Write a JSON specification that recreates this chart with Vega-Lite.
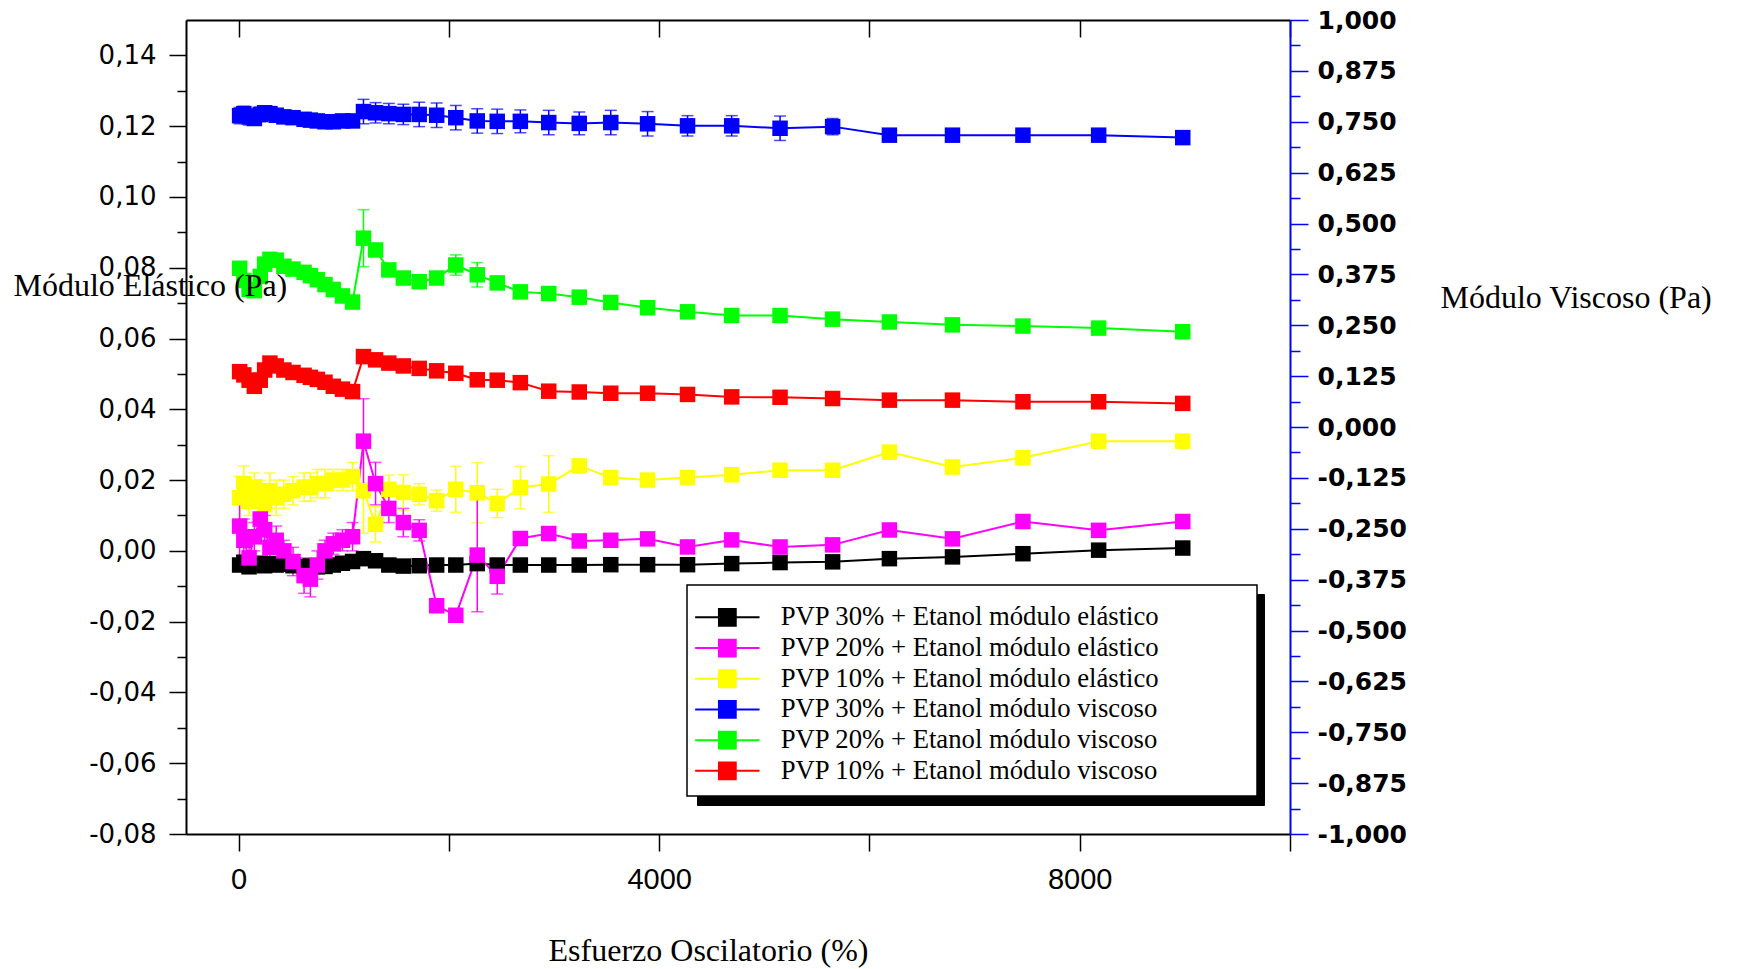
{
  "$schema": "https://vega.github.io/schema/vega-lite/v6.json",
  "width": 1104,
  "height": 814,
  "autosize": "none",
  "padding": {"left": 186, "top": 20, "right": 447, "bottom": 135},
  "background": "white",
  "config": {"view": {"stroke": null}, "axis": {"grid": false}},
  "data": {"values": [
    {"s":"PVP 30% + Etanol módulo elástico","x":10,"v":-0.004,"e":0.0012},
    {"s":"PVP 30% + Etanol módulo elástico","x":50,"v":-0.0032,"e":0.0012},
    {"s":"PVP 30% + Etanol módulo elástico","x":100,"v":-0.0045,"e":0.0012},
    {"s":"PVP 30% + Etanol módulo elástico","x":150,"v":-0.0038,"e":0.0012},
    {"s":"PVP 30% + Etanol módulo elástico","x":206,"v":-0.0035,"e":0.0012},
    {"s":"PVP 30% + Etanol módulo elástico","x":248,"v":-0.0042,"e":0.0012},
    {"s":"PVP 30% + Etanol módulo elástico","x":298,"v":-0.0036,"e":0.0012},
    {"s":"PVP 30% + Etanol módulo elástico","x":358,"v":-0.004,"e":0.0012},
    {"s":"PVP 30% + Etanol módulo elástico","x":431,"v":-0.0038,"e":0.0012},
    {"s":"PVP 30% + Etanol módulo elástico","x":518,"v":-0.0042,"e":0.0012},
    {"s":"PVP 30% + Etanol módulo elástico","x":623,"v":-0.0044,"e":0.0012},
    {"s":"PVP 30% + Etanol módulo elástico","x":683,"v":-0.0043,"e":0.0012},
    {"s":"PVP 30% + Etanol módulo elástico","x":749,"v":-0.0045},
    {"s":"PVP 30% + Etanol módulo elástico","x":822,"v":-0.0044},
    {"s":"PVP 30% + Etanol módulo elástico","x":901,"v":-0.004},
    {"s":"PVP 30% + Etanol módulo elástico","x":988,"v":-0.0035},
    {"s":"PVP 30% + Etanol módulo elástico","x":1084,"v":-0.003},
    {"s":"PVP 30% + Etanol módulo elástico","x":1188,"v":-0.0022},
    {"s":"PVP 30% + Etanol módulo elástico","x":1303,"v":-0.0028},
    {"s":"PVP 30% + Etanol módulo elástico","x":1429,"v":-0.004},
    {"s":"PVP 30% + Etanol módulo elástico","x":1567,"v":-0.0043},
    {"s":"PVP 30% + Etanol módulo elástico","x":1718,"v":-0.0042},
    {"s":"PVP 30% + Etanol módulo elástico","x":1884,"v":-0.004},
    {"s":"PVP 30% + Etanol módulo elástico","x":2066,"v":-0.004},
    {"s":"PVP 30% + Etanol módulo elástico","x":2270,"v":-0.0036},
    {"s":"PVP 30% + Etanol módulo elástico","x":2460,"v":-0.004},
    {"s":"PVP 30% + Etanol módulo elástico","x":2680,"v":-0.004},
    {"s":"PVP 30% + Etanol módulo elástico","x":2950,"v":-0.004},
    {"s":"PVP 30% + Etanol módulo elástico","x":3240,"v":-0.004},
    {"s":"PVP 30% + Etanol módulo elástico","x":3540,"v":-0.0039},
    {"s":"PVP 30% + Etanol módulo elástico","x":3890,"v":-0.0039},
    {"s":"PVP 30% + Etanol módulo elástico","x":4270,"v":-0.0039},
    {"s":"PVP 30% + Etanol módulo elástico","x":4690,"v":-0.0036},
    {"s":"PVP 30% + Etanol módulo elástico","x":5150,"v":-0.0033},
    {"s":"PVP 30% + Etanol módulo elástico","x":5650,"v":-0.0031},
    {"s":"PVP 30% + Etanol módulo elástico","x":6190,"v":-0.0022},
    {"s":"PVP 30% + Etanol módulo elástico","x":6790,"v":-0.0017},
    {"s":"PVP 30% + Etanol módulo elástico","x":7460,"v":-0.0008},
    {"s":"PVP 30% + Etanol módulo elástico","x":8180,"v":0.0002},
    {"s":"PVP 30% + Etanol módulo elástico","x":8980,"v":0.0008},

    {"s":"PVP 10% + Etanol módulo elástico","x":10,"v":0.015,"e":0.006},
    {"s":"PVP 10% + Etanol módulo elástico","x":50,"v":0.019,"e":0.005},
    {"s":"PVP 10% + Etanol módulo elástico","x":100,"v":0.014,"e":0.004},
    {"s":"PVP 10% + Etanol módulo elástico","x":150,"v":0.018,"e":0.004},
    {"s":"PVP 10% + Etanol módulo elástico","x":206,"v":0.016,"e":0.004},
    {"s":"PVP 10% + Etanol módulo elástico","x":248,"v":0.013,"e":0.004},
    {"s":"PVP 10% + Etanol módulo elástico","x":298,"v":0.017,"e":0.005},
    {"s":"PVP 10% + Etanol módulo elástico","x":358,"v":0.015,"e":0.005},
    {"s":"PVP 10% + Etanol módulo elástico","x":431,"v":0.016,"e":0.004},
    {"s":"PVP 10% + Etanol módulo elástico","x":518,"v":0.017,"e":0.004},
    {"s":"PVP 10% + Etanol módulo elástico","x":623,"v":0.018,"e":0.004},
    {"s":"PVP 10% + Etanol módulo elástico","x":683,"v":0.018,"e":0.004},
    {"s":"PVP 10% + Etanol módulo elástico","x":749,"v":0.019,"e":0.004},
    {"s":"PVP 10% + Etanol módulo elástico","x":822,"v":0.019,"e":0.004},
    {"s":"PVP 10% + Etanol módulo elástico","x":901,"v":0.02,"e":0.003},
    {"s":"PVP 10% + Etanol módulo elástico","x":988,"v":0.02,"e":0.003},
    {"s":"PVP 10% + Etanol módulo elástico","x":1084,"v":0.021,"e":0.004},
    {"s":"PVP 10% + Etanol módulo elástico","x":1188,"v":0.017,"e":0.012},
    {"s":"PVP 10% + Etanol módulo elástico","x":1303,"v":0.0075,"e":0.005},
    {"s":"PVP 10% + Etanol módulo elástico","x":1429,"v":0.0174,"e":0.004},
    {"s":"PVP 10% + Etanol módulo elástico","x":1567,"v":0.0165,"e":0.005},
    {"s":"PVP 10% + Etanol módulo elástico","x":1718,"v":0.016,"e":0.003},
    {"s":"PVP 10% + Etanol módulo elástico","x":1884,"v":0.0142,"e":0.003},
    {"s":"PVP 10% + Etanol módulo elástico","x":2066,"v":0.0174,"e":0.0065},
    {"s":"PVP 10% + Etanol módulo elástico","x":2270,"v":0.0164,"e":0.0085},
    {"s":"PVP 10% + Etanol módulo elástico","x":2460,"v":0.0134,"e":0.004},
    {"s":"PVP 10% + Etanol módulo elástico","x":2680,"v":0.0179,"e":0.006},
    {"s":"PVP 10% + Etanol módulo elástico","x":2950,"v":0.0189,"e":0.008},
    {"s":"PVP 10% + Etanol módulo elástico","x":3240,"v":0.024},
    {"s":"PVP 10% + Etanol módulo elástico","x":3540,"v":0.0207},
    {"s":"PVP 10% + Etanol módulo elástico","x":3890,"v":0.02},
    {"s":"PVP 10% + Etanol módulo elástico","x":4270,"v":0.0207},
    {"s":"PVP 10% + Etanol módulo elástico","x":4690,"v":0.0215},
    {"s":"PVP 10% + Etanol módulo elástico","x":5150,"v":0.0228},
    {"s":"PVP 10% + Etanol módulo elástico","x":5650,"v":0.0228},
    {"s":"PVP 10% + Etanol módulo elástico","x":6190,"v":0.0279},
    {"s":"PVP 10% + Etanol módulo elástico","x":6790,"v":0.0237},
    {"s":"PVP 10% + Etanol módulo elástico","x":7460,"v":0.0263},
    {"s":"PVP 10% + Etanol módulo elástico","x":8180,"v":0.031},
    {"s":"PVP 10% + Etanol módulo elástico","x":8980,"v":0.031},

    {"s":"PVP 20% + Etanol módulo elástico","x":10,"v":0.007,"e":0.01},
    {"s":"PVP 20% + Etanol módulo elástico","x":50,"v":0.003,"e":0.006},
    {"s":"PVP 20% + Etanol módulo elástico","x":100,"v":-0.002,"e":0.004},
    {"s":"PVP 20% + Etanol módulo elástico","x":150,"v":0.004,"e":0.004},
    {"s":"PVP 20% + Etanol módulo elástico","x":206,"v":0.009,"e":0.005},
    {"s":"PVP 20% + Etanol módulo elástico","x":248,"v":0.006,"e":0.004},
    {"s":"PVP 20% + Etanol módulo elástico","x":298,"v":0.001,"e":0.003},
    {"s":"PVP 20% + Etanol módulo elástico","x":358,"v":0.003,"e":0.004},
    {"s":"PVP 20% + Etanol módulo elástico","x":431,"v":0.0,"e":0.003},
    {"s":"PVP 20% + Etanol módulo elástico","x":518,"v":-0.003,"e":0.004},
    {"s":"PVP 20% + Etanol módulo elástico","x":623,"v":-0.007,"e":0.005},
    {"s":"PVP 20% + Etanol módulo elástico","x":683,"v":-0.008,"e":0.005},
    {"s":"PVP 20% + Etanol módulo elástico","x":749,"v":-0.004,"e":0.004},
    {"s":"PVP 20% + Etanol módulo elástico","x":822,"v":0.0,"e":0.003},
    {"s":"PVP 20% + Etanol módulo elástico","x":901,"v":0.002,"e":0.003},
    {"s":"PVP 20% + Etanol módulo elástico","x":988,"v":0.003,"e":0.003},
    {"s":"PVP 20% + Etanol módulo elástico","x":1084,"v":0.004,"e":0.004},
    {"s":"PVP 20% + Etanol módulo elástico","x":1188,"v":0.031,"e":0.012},
    {"s":"PVP 20% + Etanol módulo elástico","x":1303,"v":0.019,"e":0.006},
    {"s":"PVP 20% + Etanol módulo elástico","x":1429,"v":0.012,"e":0.004},
    {"s":"PVP 20% + Etanol módulo elástico","x":1567,"v":0.008,"e":0.004},
    {"s":"PVP 20% + Etanol módulo elástico","x":1718,"v":0.0058,"e":0.003},
    {"s":"PVP 20% + Etanol módulo elástico","x":1884,"v":-0.0155},
    {"s":"PVP 20% + Etanol módulo elástico","x":2066,"v":-0.0182},
    {"s":"PVP 20% + Etanol módulo elástico","x":2270,"v":-0.0012,"e":0.016},
    {"s":"PVP 20% + Etanol módulo elástico","x":2460,"v":-0.0072,"e":0.005},
    {"s":"PVP 20% + Etanol módulo elástico","x":2680,"v":0.0035},
    {"s":"PVP 20% + Etanol módulo elástico","x":2950,"v":0.0049},
    {"s":"PVP 20% + Etanol módulo elástico","x":3240,"v":0.0028},
    {"s":"PVP 20% + Etanol módulo elástico","x":3540,"v":0.003},
    {"s":"PVP 20% + Etanol módulo elástico","x":3890,"v":0.0034},
    {"s":"PVP 20% + Etanol módulo elástico","x":4270,"v":0.0011},
    {"s":"PVP 20% + Etanol módulo elástico","x":4690,"v":0.0031},
    {"s":"PVP 20% + Etanol módulo elástico","x":5150,"v":0.0011},
    {"s":"PVP 20% + Etanol módulo elástico","x":5650,"v":0.0017},
    {"s":"PVP 20% + Etanol módulo elástico","x":6190,"v":0.0059},
    {"s":"PVP 20% + Etanol módulo elástico","x":6790,"v":0.0034},
    {"s":"PVP 20% + Etanol módulo elástico","x":7460,"v":0.0083},
    {"s":"PVP 20% + Etanol módulo elástico","x":8180,"v":0.0058},
    {"s":"PVP 20% + Etanol módulo elástico","x":8980,"v":0.0083},

    {"s":"PVP 30% + Etanol módulo viscoso","x":10,"v":0.765,"e":0.02},
    {"s":"PVP 30% + Etanol módulo viscoso","x":50,"v":0.77,"e":0.018},
    {"s":"PVP 30% + Etanol módulo viscoso","x":100,"v":0.762,"e":0.02},
    {"s":"PVP 30% + Etanol módulo viscoso","x":150,"v":0.758,"e":0.016},
    {"s":"PVP 30% + Etanol módulo viscoso","x":206,"v":0.768,"e":0.018},
    {"s":"PVP 30% + Etanol módulo viscoso","x":248,"v":0.772,"e":0.016},
    {"s":"PVP 30% + Etanol módulo viscoso","x":298,"v":0.77,"e":0.015},
    {"s":"PVP 30% + Etanol módulo viscoso","x":358,"v":0.766,"e":0.015},
    {"s":"PVP 30% + Etanol módulo viscoso","x":431,"v":0.762,"e":0.014},
    {"s":"PVP 30% + Etanol módulo viscoso","x":518,"v":0.76,"e":0.014},
    {"s":"PVP 30% + Etanol módulo viscoso","x":623,"v":0.756,"e":0.014},
    {"s":"PVP 30% + Etanol módulo viscoso","x":683,"v":0.754,"e":0.012},
    {"s":"PVP 30% + Etanol módulo viscoso","x":749,"v":0.752,"e":0.012},
    {"s":"PVP 30% + Etanol módulo viscoso","x":822,"v":0.75,"e":0.012},
    {"s":"PVP 30% + Etanol módulo viscoso","x":901,"v":0.75,"e":0.012},
    {"s":"PVP 30% + Etanol módulo viscoso","x":988,"v":0.752,"e":0.012},
    {"s":"PVP 30% + Etanol módulo viscoso","x":1084,"v":0.752,"e":0.012},
    {"s":"PVP 30% + Etanol módulo viscoso","x":1188,"v":0.775,"e":0.03},
    {"s":"PVP 30% + Etanol módulo viscoso","x":1303,"v":0.772,"e":0.025},
    {"s":"PVP 30% + Etanol módulo viscoso","x":1429,"v":0.77,"e":0.025},
    {"s":"PVP 30% + Etanol módulo viscoso","x":1567,"v":0.768,"e":0.025},
    {"s":"PVP 30% + Etanol módulo viscoso","x":1718,"v":0.768,"e":0.03},
    {"s":"PVP 30% + Etanol módulo viscoso","x":1884,"v":0.766,"e":0.03},
    {"s":"PVP 30% + Etanol módulo viscoso","x":2066,"v":0.76,"e":0.03},
    {"s":"PVP 30% + Etanol módulo viscoso","x":2270,"v":0.752,"e":0.03},
    {"s":"PVP 30% + Etanol módulo viscoso","x":2460,"v":0.751,"e":0.03},
    {"s":"PVP 30% + Etanol módulo viscoso","x":2680,"v":0.751,"e":0.028},
    {"s":"PVP 30% + Etanol módulo viscoso","x":2950,"v":0.748,"e":0.03},
    {"s":"PVP 30% + Etanol módulo viscoso","x":3240,"v":0.746,"e":0.028},
    {"s":"PVP 30% + Etanol módulo viscoso","x":3540,"v":0.748,"e":0.03},
    {"s":"PVP 30% + Etanol módulo viscoso","x":3890,"v":0.745,"e":0.03},
    {"s":"PVP 30% + Etanol módulo viscoso","x":4270,"v":0.74,"e":0.025},
    {"s":"PVP 30% + Etanol módulo viscoso","x":4690,"v":0.74,"e":0.025},
    {"s":"PVP 30% + Etanol módulo viscoso","x":5150,"v":0.734,"e":0.03},
    {"s":"PVP 30% + Etanol módulo viscoso","x":5650,"v":0.738,"e":0.02},
    {"s":"PVP 30% + Etanol módulo viscoso","x":6190,"v":0.717},
    {"s":"PVP 30% + Etanol módulo viscoso","x":6790,"v":0.717},
    {"s":"PVP 30% + Etanol módulo viscoso","x":7460,"v":0.717},
    {"s":"PVP 30% + Etanol módulo viscoso","x":8180,"v":0.717},
    {"s":"PVP 30% + Etanol módulo viscoso","x":8980,"v":0.711},

    {"s":"PVP 20% + Etanol módulo viscoso","x":10,"v":0.39},
    {"s":"PVP 20% + Etanol módulo viscoso","x":50,"v":0.36},
    {"s":"PVP 20% + Etanol módulo viscoso","x":100,"v":0.338},
    {"s":"PVP 20% + Etanol módulo viscoso","x":150,"v":0.335},
    {"s":"PVP 20% + Etanol módulo viscoso","x":206,"v":0.37},
    {"s":"PVP 20% + Etanol módulo viscoso","x":248,"v":0.4},
    {"s":"PVP 20% + Etanol módulo viscoso","x":298,"v":0.412},
    {"s":"PVP 20% + Etanol módulo viscoso","x":358,"v":0.41},
    {"s":"PVP 20% + Etanol módulo viscoso","x":431,"v":0.395},
    {"s":"PVP 20% + Etanol módulo viscoso","x":518,"v":0.388},
    {"s":"PVP 20% + Etanol módulo viscoso","x":623,"v":0.38},
    {"s":"PVP 20% + Etanol módulo viscoso","x":683,"v":0.372},
    {"s":"PVP 20% + Etanol módulo viscoso","x":749,"v":0.362},
    {"s":"PVP 20% + Etanol módulo viscoso","x":822,"v":0.35},
    {"s":"PVP 20% + Etanol módulo viscoso","x":901,"v":0.338},
    {"s":"PVP 20% + Etanol módulo viscoso","x":988,"v":0.322},
    {"s":"PVP 20% + Etanol módulo viscoso","x":1084,"v":0.307},
    {"s":"PVP 20% + Etanol módulo viscoso","x":1188,"v":0.464,"e":0.07},
    {"s":"PVP 20% + Etanol módulo viscoso","x":1303,"v":0.435},
    {"s":"PVP 20% + Etanol módulo viscoso","x":1429,"v":0.386},
    {"s":"PVP 20% + Etanol módulo viscoso","x":1567,"v":0.366},
    {"s":"PVP 20% + Etanol módulo viscoso","x":1718,"v":0.357},
    {"s":"PVP 20% + Etanol módulo viscoso","x":1884,"v":0.366},
    {"s":"PVP 20% + Etanol módulo viscoso","x":2066,"v":0.398,"e":0.025},
    {"s":"PVP 20% + Etanol módulo viscoso","x":2270,"v":0.374,"e":0.03},
    {"s":"PVP 20% + Etanol módulo viscoso","x":2460,"v":0.354},
    {"s":"PVP 20% + Etanol módulo viscoso","x":2680,"v":0.332},
    {"s":"PVP 20% + Etanol módulo viscoso","x":2950,"v":0.328},
    {"s":"PVP 20% + Etanol módulo viscoso","x":3240,"v":0.319},
    {"s":"PVP 20% + Etanol módulo viscoso","x":3540,"v":0.306},
    {"s":"PVP 20% + Etanol módulo viscoso","x":3890,"v":0.293},
    {"s":"PVP 20% + Etanol módulo viscoso","x":4270,"v":0.283},
    {"s":"PVP 20% + Etanol módulo viscoso","x":4690,"v":0.274},
    {"s":"PVP 20% + Etanol módulo viscoso","x":5150,"v":0.274},
    {"s":"PVP 20% + Etanol módulo viscoso","x":5650,"v":0.265},
    {"s":"PVP 20% + Etanol módulo viscoso","x":6190,"v":0.258},
    {"s":"PVP 20% + Etanol módulo viscoso","x":6790,"v":0.251},
    {"s":"PVP 20% + Etanol módulo viscoso","x":7460,"v":0.248},
    {"s":"PVP 20% + Etanol módulo viscoso","x":8180,"v":0.243},
    {"s":"PVP 20% + Etanol módulo viscoso","x":8980,"v":0.234},

    {"s":"PVP 10% + Etanol módulo viscoso","x":10,"v":0.136},
    {"s":"PVP 10% + Etanol módulo viscoso","x":50,"v":0.128},
    {"s":"PVP 10% + Etanol módulo viscoso","x":100,"v":0.115},
    {"s":"PVP 10% + Etanol módulo viscoso","x":150,"v":0.1},
    {"s":"PVP 10% + Etanol módulo viscoso","x":206,"v":0.115},
    {"s":"PVP 10% + Etanol módulo viscoso","x":248,"v":0.14},
    {"s":"PVP 10% + Etanol módulo viscoso","x":298,"v":0.157},
    {"s":"PVP 10% + Etanol módulo viscoso","x":358,"v":0.15},
    {"s":"PVP 10% + Etanol módulo viscoso","x":431,"v":0.14},
    {"s":"PVP 10% + Etanol módulo viscoso","x":518,"v":0.134},
    {"s":"PVP 10% + Etanol módulo viscoso","x":623,"v":0.127},
    {"s":"PVP 10% + Etanol módulo viscoso","x":683,"v":0.122},
    {"s":"PVP 10% + Etanol módulo viscoso","x":749,"v":0.117},
    {"s":"PVP 10% + Etanol módulo viscoso","x":822,"v":0.11},
    {"s":"PVP 10% + Etanol módulo viscoso","x":901,"v":0.1},
    {"s":"PVP 10% + Etanol módulo viscoso","x":988,"v":0.093},
    {"s":"PVP 10% + Etanol módulo viscoso","x":1084,"v":0.087},
    {"s":"PVP 10% + Etanol módulo viscoso","x":1188,"v":0.173},
    {"s":"PVP 10% + Etanol módulo viscoso","x":1303,"v":0.165},
    {"s":"PVP 10% + Etanol módulo viscoso","x":1429,"v":0.157},
    {"s":"PVP 10% + Etanol módulo viscoso","x":1567,"v":0.15},
    {"s":"PVP 10% + Etanol módulo viscoso","x":1718,"v":0.144},
    {"s":"PVP 10% + Etanol módulo viscoso","x":1884,"v":0.138},
    {"s":"PVP 10% + Etanol módulo viscoso","x":2066,"v":0.132},
    {"s":"PVP 10% + Etanol módulo viscoso","x":2270,"v":0.116},
    {"s":"PVP 10% + Etanol módulo viscoso","x":2460,"v":0.115},
    {"s":"PVP 10% + Etanol módulo viscoso","x":2680,"v":0.109},
    {"s":"PVP 10% + Etanol módulo viscoso","x":2950,"v":0.088},
    {"s":"PVP 10% + Etanol módulo viscoso","x":3240,"v":0.086},
    {"s":"PVP 10% + Etanol módulo viscoso","x":3540,"v":0.083},
    {"s":"PVP 10% + Etanol módulo viscoso","x":3890,"v":0.083},
    {"s":"PVP 10% + Etanol módulo viscoso","x":4270,"v":0.08},
    {"s":"PVP 10% + Etanol módulo viscoso","x":4690,"v":0.074},
    {"s":"PVP 10% + Etanol módulo viscoso","x":5150,"v":0.073},
    {"s":"PVP 10% + Etanol módulo viscoso","x":5650,"v":0.07},
    {"s":"PVP 10% + Etanol módulo viscoso","x":6190,"v":0.066},
    {"s":"PVP 10% + Etanol módulo viscoso","x":6790,"v":0.066},
    {"s":"PVP 10% + Etanol módulo viscoso","x":7460,"v":0.062},
    {"s":"PVP 10% + Etanol módulo viscoso","x":8180,"v":0.062},
    {"s":"PVP 10% + Etanol módulo viscoso","x":8980,"v":0.058}
  ]},
  "transform": [{"calculate": "datum.s", "as": "s2"}],
  "encoding": {
    "x": {"field": "x", "type": "quantitative", "scale": {"domain": [-500, 10000], "nice": false, "zero": false}, "axis": null},
    "color": {
      "field": "s", "type": "nominal",
      "scale": {
        "domain": ["PVP 30% + Etanol módulo elástico", "PVP 20% + Etanol módulo elástico", "PVP 10% + Etanol módulo elástico", "PVP 30% + Etanol módulo viscoso", "PVP 20% + Etanol módulo viscoso", "PVP 10% + Etanol módulo viscoso"],
        "range": ["#000000", "#ff00ff", "#ffff00", "#0000ff", "#00ff00", "#ff0000"]
      },
      "legend": {
        "orient": "none", "legendX": 501, "legendY": 565, "zindex": 2,
        "title": "\u00a0", "titleFont": "Liberation Serif", "titleFontSize": 6, "titlePadding": 2, "titleColor": "white",
        "fillColor": "white", "strokeColor": "black", "padding": 11,
        "labelFont": "Liberation Serif", "labelFontSize": 26.7, "labelColor": "black", "labelLimit": 0,
        "labelOffset": 40, "symbolOffset": 16, "rowPadding": 2.7,
        "symbolSize": 196, "symbolStrokeWidth": 2, "symbolType": "M-4.6,0H4.6M-1.2,-1.2H1.2V1.2H-1.2ZM73.4,0",
        "encode": {
          "legend": {"update": {"strokeWidth": {"value": 1.5}}},
          "symbols": {"update": {"fill": {"scale": "color", "field": "value"}, "stroke": {"scale": "color", "field": "value"}, "opacity": {"value": 1}, "shape": {"value": "M-4.6,0H4.6M-1.2,-1.2H1.2V1.2H-1.2ZM73.4,0"}, "strokeWidth": {"value": 2}}}
        }
      }
    }
  },
  "layer": [
    {
      "transform": [{"filter": "indexof(datum.s, 'elástico') >= 0"}],
      "layer": [
        {
          "transform": [{"filter": "datum.e > 0"}],
          "mark": {"type": "errorbar", "ticks": {"size": 12}, "thickness": 1.5},
          "encoding": {
            "y": {"field": "v", "type": "quantitative", "scale": {"domain": [-0.08, 0.15], "nice": false, "zero": false}, "axis": null},
            "yError": {"field": "e"}
          }
        },
        {
          "mark": {"type": "line", "strokeWidth": 2},
          "encoding": {
            "x": {"field": "x", "type": "quantitative", "scale": {"domain": [-500, 10000], "nice": false, "zero": false},
              "axis": {"orient": "bottom", "values": [0, 2000, 4000, 6000, 8000, 10000], "tickSize": 17, "tickWidth": 1.5, "tickColor": "black", "domainColor": "black", "domainWidth": 2,
                "labelExpr": "datum.value % 4000 === 0 ? format(datum.value, 'd') : ''", "labelFont": "Liberation Sans", "labelFontSize": 29, "labelColor": "black", "labelPadding": 14, "labelFlush": false, "labelOverlap": false,
                "title": "Esfuerzo Oscilatorio (%)", "titleFont": "Liberation Serif", "titleFontSize": 32, "titleFontWeight": "normal", "titleColor": "black", "titleX": 522, "titleY": 116, "titleAlign": "center", "titleBaseline": "middle"}},
            "y": {"field": "v", "type": "quantitative", "scale": {"domain": [-0.08, 0.15], "nice": false, "zero": false},
              "axis": {"orient": "left", "values": [-0.08, -0.06, -0.04, -0.02, 0, 0.02, 0.04, 0.06, 0.08, 0.1, 0.12, 0.14], "tickSize": 17, "tickWidth": 1.5, "tickColor": "black", "domainColor": "black", "domainWidth": 2,
                "labelExpr": "replace(replace(format(datum.value, '.2f'), '.', ','), '\u2212', '-')", "labelFont": "DejaVu Sans", "labelFontSize": 26, "labelColor": "black", "labelPadding": 13, "labelOverlap": false, "labelFlush": false,
                "title": "Módulo Elástico (Pa)", "titleFont": "Liberation Serif", "titleFontSize": 32, "titleFontWeight": "normal", "titleColor": "black", "titleAngle": 0, "titleAlign": "left", "titleBaseline": "middle", "titleX": -173, "titleY": 265, "zindex": 1}}
          }
        },
        {
          "mark": {"type": "point", "shape": "square", "filled": true, "size": 240, "opacity": 1, "strokeWidth": 0},
          "encoding": {
            "x": {"field": "x", "type": "quantitative", "scale": {"domain": [-500, 10000], "nice": false, "zero": false},
              "axis": {"orient": "top", "values": [0, 2000, 4000, 6000, 8000, 10000], "tickSize": -17, "tickWidth": 1.5, "tickColor": "black", "domainColor": "black", "domainWidth": 2, "labels": false, "title": null}},
            "y": {"field": "v", "type": "quantitative", "scale": {"domain": [-0.08, 0.15], "nice": false, "zero": false},
              "axis": {"orient": "left", "values": [-0.07, -0.05, -0.03, -0.01, 0.01, 0.03, 0.05, 0.07, 0.09, 0.11, 0.13], "tickSize": 9, "tickWidth": 1.5, "tickColor": "black", "domain": false, "labels": false, "title": null}},
            "shape": {"field": "s2", "type": "nominal", "scale": {"range": ["square", "square", "square", "square", "square", "square"]},
              "legend": {
                "orient": "none", "legendX": 511, "legendY": 574, "zindex": 1,
                "title": "MMMMMMMMMMMMMMMMMMMMMMMMMMMMMMMMMMMMMMMMMMMMMMMMMMMMMMMMMMMMMMMMMMMMMMMMMMMMMMMMMMMMMMMMMMMMMMMMMMMMMM",
                "titleFont": "Liberation Serif", "titleFontSize": 6, "titleFontWeight": "normal", "titlePadding": 2, "titleColor": "black", "titleLimit": 2000,
                "fillColor": "black", "strokeColor": "black", "padding": 11,
                "labelFont": "Liberation Serif", "labelFontSize": 26.7, "labelColor": "black", "labelLimit": 0,
                "labelOffset": 40, "symbolOffset": 16, "rowPadding": 2.7,
                "symbolSize": 196, "symbolStrokeWidth": 2,
                "encode": {
                  "legend": {"update": {"strokeWidth": {"value": 1.5}}},
                  "symbols": {"update": {"fill": {"value": "black"}, "stroke": {"value": "black"}, "strokeWidth": {"value": 2}}}
                }
              }}
          }
        }
      ],
      "resolve": {"axis": {"x": "independent", "y": "independent"}}
    },
    {
      "transform": [{"filter": "indexof(datum.s, 'viscoso') >= 0"}],
      "layer": [
        {
          "transform": [{"filter": "datum.e > 0"}],
          "mark": {"type": "errorbar", "ticks": {"size": 12}, "thickness": 1.5},
          "encoding": {
            "y": {"field": "v", "type": "quantitative", "scale": {"domain": [-1, 1], "nice": false, "zero": false}, "axis": null},
            "yError": {"field": "e"}
          }
        },
        {
          "mark": {"type": "line", "strokeWidth": 2},
          "encoding": {
            "y": {"field": "v", "type": "quantitative", "scale": {"domain": [-1, 1], "nice": false, "zero": false},
              "axis": {"orient": "right", "values": [-1, -0.875, -0.75, -0.625, -0.5, -0.375, -0.25, -0.125, 0, 0.125, 0.25, 0.375, 0.5, 0.625, 0.75, 0.875, 1], "tickSize": 18, "tickWidth": 1.5, "tickColor": "#0000ff", "domainColor": "#0000ff", "domainWidth": 2,
                "labelExpr": "replace(replace(format(datum.value, '.3f'), '.', ','), '\u2212', '-')", "labelFont": "DejaVu Sans", "labelFontWeight": "bold", "labelFontSize": 25, "labelColor": "black", "labelPadding": 9, "labelOverlap": false, "labelFlush": false,
                "title": "Módulo Viscoso (Pa)", "titleFont": "Liberation Serif", "titleFontSize": 32, "titleFontWeight": "normal", "titleColor": "black", "titleAngle": 0, "titleAlign": "left", "titleBaseline": "middle", "titleX": 150, "titleY": 277}}
          }
        },
        {
          "mark": {"type": "point", "shape": "square", "filled": true, "size": 240, "opacity": 1, "strokeWidth": 0},
          "encoding": {
            "y": {"field": "v", "type": "quantitative", "scale": {"domain": [-1, 1], "nice": false, "zero": false},
              "axis": {"orient": "right", "values": [-0.9375, -0.8125, -0.6875, -0.5625, -0.4375, -0.3125, -0.1875, -0.0625, 0.0625, 0.1875, 0.3125, 0.4375, 0.5625, 0.6875, 0.8125, 0.9375], "tickSize": 10, "tickWidth": 1.5, "tickColor": "#0000ff", "domain": false, "labels": false, "title": null}},
            "shape": {"field": "s2", "type": "nominal", "scale": {"range": ["square", "square", "square", "square", "square", "square"]}}
          }
        }
      ],
      "resolve": {"axis": {"y": "independent"}}
    }
  ],
  "resolve": {"scale": {"y": "independent"}}
}
